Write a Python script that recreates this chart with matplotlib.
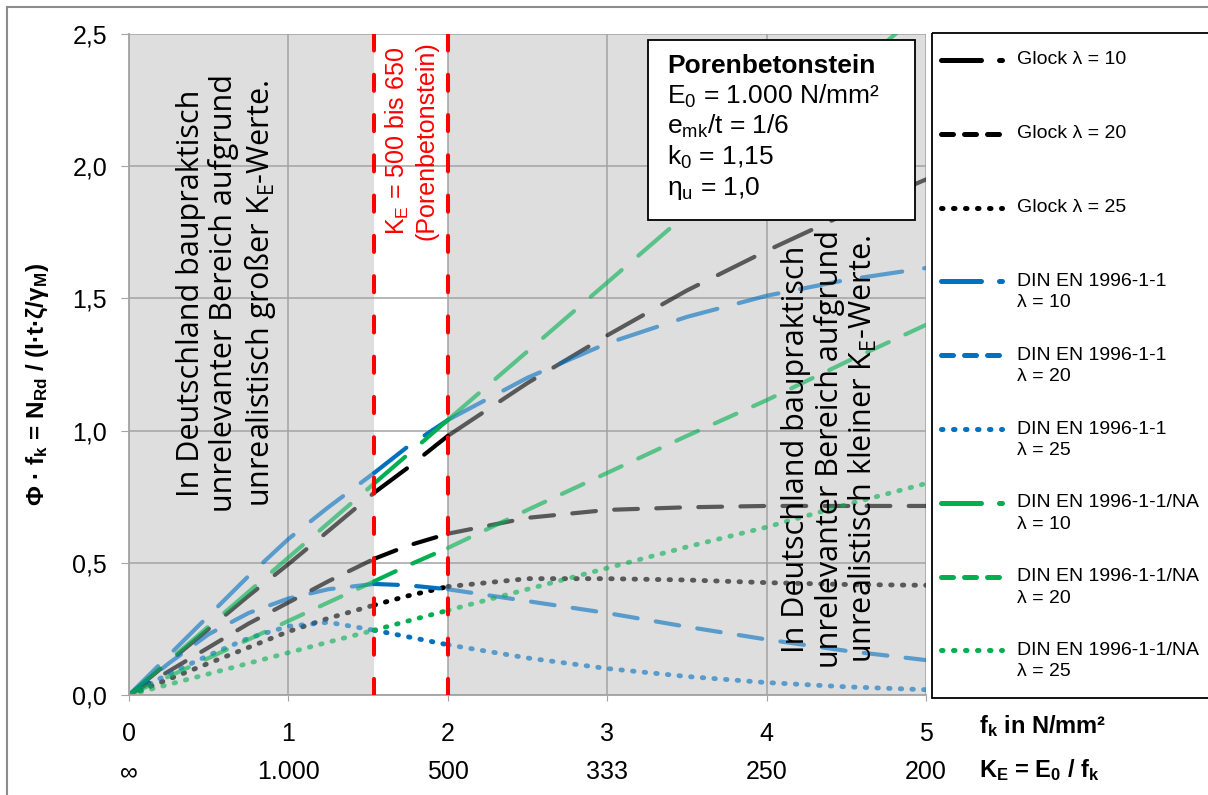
import matplotlib
matplotlib.use('Agg')
import matplotlib.pyplot as plt
from matplotlib.patches import Rectangle

plt.rcParams['font.family'] = ['Liberation Sans', 'DejaVu Sans']
plt.rcParams['mathtext.fontset'] = 'custom'
plt.rcParams['mathtext.rm'] = 'Liberation Sans'
plt.rcParams['mathtext.bf'] = 'Liberation Sans:bold'

# values (f_k in N/mm², Phi*f_k)
fk = [0, 0.25, 0.5, 0.75, 1.0, 1.25, 1.538, 1.75, 2.0, 2.5, 3.0, 3.5, 4.0, 4.5, 5.0]
glock_10 = [0, 0.125, 0.25, 0.375, 0.495, 0.62, 0.765, 0.86, 0.98, 1.18, 1.36, 1.53, 1.68, 1.82, 1.95]
glock_20 = [0, 0.09, 0.18, 0.27, 0.35, 0.43, 0.515, 0.565, 0.61, 0.67, 0.70, 0.71, 0.715, 0.715, 0.715]
glock_25 = [0, 0.06, 0.12, 0.18, 0.24, 0.29, 0.34, 0.375, 0.41, 0.44, 0.44, 0.435, 0.425, 0.418, 0.415]
din_10 = [0, 0.15, 0.30, 0.45, 0.59, 0.71, 0.84, 0.94, 1.04, 1.20, 1.33, 1.43, 1.51, 1.57, 1.615]
din_20 = [0, 0.12, 0.23, 0.31, 0.365, 0.40, 0.42, 0.415, 0.40, 0.355, 0.31, 0.258, 0.21, 0.167, 0.132]
din_25 = [0, 0.08, 0.15, 0.215, 0.26, 0.275, 0.245, 0.22, 0.19, 0.14, 0.10, 0.07, 0.047, 0.031, 0.02]
na_10 = [0, 0.13, 0.26, 0.39, 0.52, 0.65, 0.80, 0.91, 1.04, 1.30, 1.56, 1.82, 2.08, 2.34, 2.60]
na_20 = [0, 0.07, 0.14, 0.21, 0.28, 0.35, 0.43, 0.49, 0.556, 0.70, 0.84, 0.98, 1.115, 1.26, 1.40]
na_25 = [0, 0.04, 0.08, 0.12, 0.16, 0.20, 0.245, 0.28, 0.32, 0.40, 0.48, 0.56, 0.635, 0.72, 0.80]

x_ticks = [0, 1, 2, 3, 4, 5]
fk_labels = ['0', '1', '2', '3', '4', '5']
ke_labels = ['∞', '1.000', '500', '333', '250', '200']
y_ticks = [0, 0.5, 1.0, 1.5, 2.0, 2.5]
y_labels = ['0,0', '0,5', '1,0', '1,5', '2,0', '2,5']
ke_band = [1.538, 2.0]   # K_E = 650 ... 500

black, blue, green = '#000000', '#0070C0', '#00B050'
series = [
    ('Glock λ = 10', glock_10, black, 'long'),
    ('Glock λ = 20', glock_20, black, 'dash'),
    ('Glock λ = 25', glock_25, black, 'dot'),
    ('DIN EN 1996-1-1\nλ = 10', din_10, blue, 'long'),
    ('DIN EN 1996-1-1\nλ = 20', din_20, blue, 'dash'),
    ('DIN EN 1996-1-1\nλ = 25', din_25, blue, 'dot'),
    ('DIN EN 1996-1-1/NA\nλ = 10', na_10, green, 'long'),
    ('DIN EN 1996-1-1/NA\nλ = 20', na_20, green, 'dash'),
    ('DIN EN 1996-1-1/NA\nλ = 25', na_25, green, 'dot'),
]
plot_dash = {'long': (9.8, 5.3), 'dash': (5.7, 4.4), 'dot': (0.3, 2.1)}
plot_lw = {'long': 3, 'dash': 3, 'dot': 3.5}
leg_dash = {'long': (8.0, 3.6), 'dash': (2.4, 2.2), 'dot': (0.3, 2.1)}

W, H = 1208, 795
fig = plt.figure(figsize=(W / 100, H / 100), dpi=100)
ax = fig.add_axes([129 / W, 1 - 695 / H, (926 - 129) / W, (695 - 34) / H])
ax.set_facecolor('#dedede')
ax.set_xlim(0, 5)
ax.set_ylim(0, 2.5)
ax.set_axisbelow(True)
ax.grid(True, color='#a3a3a3', lw=1.1)
ax.axvspan(ke_band[0], ke_band[1], color='white', zorder=0.2, lw=0)
for s in ['top', 'right']:
    ax.spines[s].set_visible(False)
for s in ['left', 'bottom']:
    ax.spines[s].set_color('#a3a3a3')
    ax.spines[s].set_linewidth(1.3)

lo, hi = ke_band
segs = [([i for i, v in enumerate(fk) if v <= lo + 1e-6], 0.6),
        ([i for i, v in enumerate(fk) if lo - 1e-6 <= v <= hi + 1e-6], 1.0),
        ([i for i, v in enumerate(fk) if v >= hi - 1e-6], 0.6)]
for label, vals, col, sty in series:
    for idx, a in segs:
        ax.plot([fk[i] for i in idx], [vals[i] for i in idx], color=col, alpha=a,
                lw=plot_lw[sty], dashes=plot_dash[sty], dash_capstyle='round', zorder=2)

for xv in ke_band:
    ax.axvline(xv, color='#ff0000', lw=2.9, dashes=(4, 6), dash_capstyle='round', zorder=4)

ax.set_xticks(x_ticks, fk_labels, fontsize=18)
ax.set_yticks(y_ticks, y_labels, fontsize=18)
ax.tick_params(axis='x', length=4.3, color='#a3a3a3', pad=15)
ax.tick_params(axis='y', length=5.8, color='#a3a3a3', pad=10)
sec = ax.secondary_xaxis('bottom')
sec.set_xticks(x_ticks, ke_labels, fontsize=18)
sec.tick_params(length=0, pad=47)
sec.spines['bottom'].set_visible(False)

ax.text(0.615, 1.52, 'In Deutschland baupraktisch\nunrelevanter Bereich aufgrund\n'
        'unrealistisch großer K$\\mathregular{_E}$-Werte.', family='Open Sans', fontsize=22,
        rotation=90, ha='center', va='center', multialignment='center', linespacing=1.1, zorder=5)
ax.text(4.4, 0.93, 'In Deutschland baupraktisch\nunrelevanter Bereich aufgrund\n'
        'unrealistisch kleiner K$\\mathregular{_E}$-Werte.', family='Open Sans', fontsize=22,
        rotation=90, ha='center', va='center', multialignment='center', linespacing=1.1, zorder=5)
ax.text(sum(ke_band) / 2, 2.095, 'K$\\mathregular{_E}$ = 500 bis 650\n(Porenbetonstein)',
        color='#ff0000', fontsize=18, rotation=90, ha='center', va='center',
        multialignment='center', zorder=5)

# overlay in pixel coordinates for frame, text box and legend
ov = fig.add_axes([0, 0, 1, 1])
ov.set_xlim(0, W)
ov.set_ylim(H, 0)
ov.axis('off')
ov.plot([7, 7], [7, H + 5], color='#8c8c8c', lw=1.5, clip_on=False)
ov.plot([7, W + 5], [7, 7], color='#8c8c8c', lw=1.5, clip_on=False)

ov.text(38, 384, 'Φ · f$\\mathregular{_k}$ = N$\\mathregular{_{Rd}}$ / (l·t·ζ/γ$\\mathregular{_M}$)',
        fontsize=17.5, fontweight='bold', rotation=90, ha='center', va='center')
ov.text(979, 733, 'f$\\mathregular{_k}$ in N/mm²', fontsize=17, fontweight='bold', va='baseline')
ov.text(979, 777, 'K$\\mathregular{_E}$ = E$\\mathregular{_0}$ / f$\\mathregular{_k}$', fontsize=17,
        fontweight='bold', va='baseline')

ov.add_patch(Rectangle((648, 40), 267, 180, fc='white', ec='black', lw=1.3))
box_lines = ['Porenbetonstein', 'E$\\mathregular{_0}$ = 1.000 N/mm²', 'e$\\mathregular{_{mk}}$/t = 1/6',
             'k$\\mathregular{_0}$ = 1,15', 'η$\\mathregular{_u}$ = 1,0']
for i, t in enumerate(box_lines):
    ov.text(667, 73 + 30.5 * i, t, fontsize=19, va='baseline',
            fontweight='bold' if i == 0 else 'normal')

ov.add_patch(Rectangle((932, 33), 320, 665, fill=False, ec='black', lw=1.3))
for k, (label, vals, col, sty) in enumerate(series):
    y = 60 + 73.8 * k
    ov.plot([941, 1002], [y, y], color=col, lw=3.6, dashes=leg_dash[sty], dash_capstyle='round')
    for j, part in enumerate(label.split('\n')):
        ov.text(1017, y + 21.5 * j, part, fontsize=14, va='center')

fig.savefig('out.png', dpi=100)
